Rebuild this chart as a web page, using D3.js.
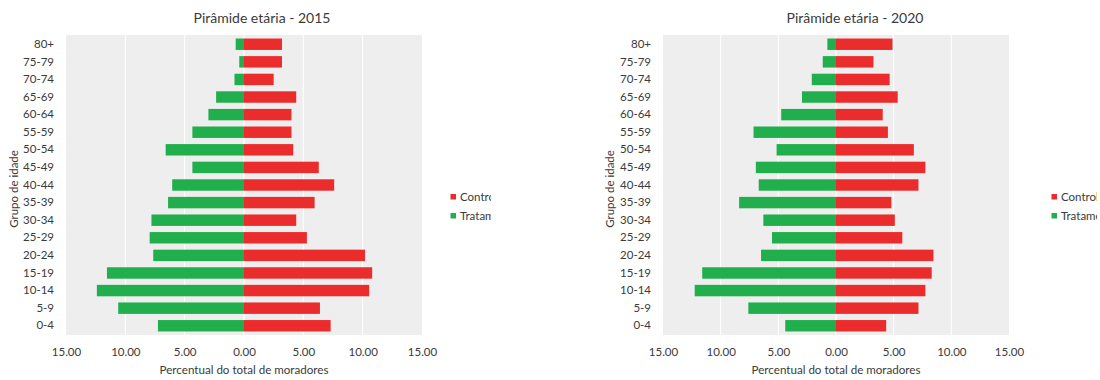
<!DOCTYPE html>
<html>
<head>
<meta charset="utf-8">
<script src="https://cdn.jsdelivr.net/npm/d3@7"></script>
<style>
  body { margin: 0; background: #fff; }
  svg { display: block; font-family: Lato, 'Liberation Sans', sans-serif; }
</style>
</head>
<body>
<svg width="1100" height="380"></svg>
<script>
// Age groups, top to bottom
var ageGroups = ['80+', '75-79', '70-74', '65-69', '60-64', '55-59', '50-54', '45-49',
  '40-44', '35-39', '30-34', '25-29', '20-24', '15-19', '10-14', '5-9', '0-4'];

// Percent of residents, 2015
var controle2015 = [3.2, 3.2, 2.5, 4.4, 4.0, 4.0, 4.15, 6.3, 7.6, 5.95, 4.4, 5.3, 10.2, 10.8, 10.55, 6.4, 7.3];
var tratamento2015 = [0.7, 0.4, 0.8, 2.35, 3.0, 4.35, 6.6, 4.35, 6.05, 6.4, 7.8, 7.95, 7.65, 11.55, 12.4, 10.6, 7.25];

// Percent of residents, 2020
var controle2020 = [4.9, 3.25, 4.65, 5.35, 4.05, 4.5, 6.75, 7.75, 7.15, 4.8, 5.1, 5.75, 8.45, 8.3, 7.75, 7.15, 4.35];
var tratamento2020 = [0.75, 1.15, 2.1, 2.95, 4.75, 7.15, 5.15, 6.95, 6.7, 8.4, 6.3, 5.55, 6.5, 11.6, 12.25, 7.6, 4.4];

var xTicks = [-15, -10, -5, 0, 5, 10, 15];
var seriesNames = ['Controle', 'Tratamento'];
var seriesColors = ['#ea2c2c', '#20af4c'];

var svg = d3.select('svg');
var textColor = '#3a3a3a';

function drawPyramid (cfg) {
  var g = svg.append('g');

  var x = d3.scaleLinear()
    .domain([-15, 15])
    .range([cfg.left, cfg.right]);

  var y = d3.scaleBand()
    .domain(ageGroups)
    .range([35, 335])
    .paddingInner(0.35)
    .paddingOuter(0.2);

  // Plot background
  g.append('rect')
    .attr('x', x(-15))
    .attr('y', 35)
    .attr('width', x(15) - x(-15))
    .attr('height', 300)
    .attr('fill', '#efeeee');

  // Vertical grid lines
  g.selectAll('.grid')
    .data(xTicks.slice(1, -1))
    .enter()
    .append('line')
      .attr('x1', function (d) { return x(d); })
      .attr('x2', function (d) { return x(d); })
      .attr('y1', 35)
      .attr('y2', 335)
      .attr('stroke', '#ffffff')
      .attr('stroke-width', 1);

  // Tratamento bars go left, Controle bars go right
  g.selectAll('.trat')
    .data(cfg.tratamento)
    .enter()
    .append('rect')
      .attr('x', function (d) { return x(-d); })
      .attr('y', function (d, i) { return y(ageGroups[i]); })
      .attr('width', function (d) { return x(0) - x(-d); })
      .attr('height', y.bandwidth())
      .attr('fill', seriesColors[1]);

  g.selectAll('.ctrl')
    .data(cfg.controle)
    .enter()
    .append('rect')
      .attr('x', x(0))
      .attr('y', function (d, i) { return y(ageGroups[i]); })
      .attr('width', function (d) { return x(d) - x(0); })
      .attr('height', y.bandwidth())
      .attr('fill', seriesColors[0]);

  // Y axis (labels only)
  var yAxis = g.append('g')
    .attr('transform', 'translate(' + (cfg.left - 12) + ',0)')
    .call(d3.axisLeft(y).tickSize(0).tickPadding(0));
  yAxis.select('.domain').remove();
  yAxis.selectAll('text')
    .attr('font-size', 11.5)
    .attr('font-family', 'Lato, sans-serif')
    .attr('fill', textColor);

  // X axis (labels only)
  var xAxis = g.append('g')
    .attr('transform', 'translate(0,348)')
    .call(d3.axisBottom(x).tickValues(xTicks).tickSize(0).tickPadding(0)
      .tickFormat(function (d) { return Math.abs(d).toFixed(2); }));
  xAxis.select('.domain').remove();
  xAxis.selectAll('text')
    .attr('font-size', 11.5)
    .attr('font-family', 'Lato, sans-serif')
    .attr('fill', textColor);

  // Title
  g.append('text')
    .attr('x', cfg.titleX)
    .attr('y', 23)
    .attr('text-anchor', 'middle')
    .attr('font-size', 14)
    .attr('fill', textColor)
    .text(cfg.title);

  // Axis titles
  g.append('text')
    .attr('x', (cfg.left + cfg.right) / 2)
    .attr('y', 374)
    .attr('text-anchor', 'middle')
    .attr('font-size', 11.6)
    .attr('fill', textColor)
    .text('Percentual do total de moradores');

  g.append('text')
    .attr('text-anchor', 'middle')
    .attr('transform', 'translate(' + cfg.yTitleX + ',189)rotate(-90)')
    .attr('font-size', 11.5)
    .attr('fill', textColor)
    .text('Grupo de idade');

  // Legend, clipped at the chart frame's right edge as in the source
  var clipId = 'clip' + cfg.title.slice(-4);
  svg.append('clipPath')
    .attr('id', clipId)
    .append('rect')
      .attr('x', cfg.legendX - 5)
      .attr('y', 180)
      .attr('width', cfg.clipRight - cfg.legendX + 5)
      .attr('height', 50);

  var legend = g.append('g')
    .attr('clip-path', 'url(#' + clipId + ')');

  var items = legend.selectAll('.item')
    .data(seriesNames)
    .enter()
    .append('g')
      .attr('transform', function (d, i) {
        return 'translate(' + cfg.legendX + ',' + (196.5 + i * 19) + ')';
      });

  items.append('rect')
    .attr('x', 0)
    .attr('y', -2.5)
    .attr('width', 5.5)
    .attr('height', 5.5)
    .attr('fill', function (d, i) { return seriesColors[i]; });

  items.append('text')
    .attr('x', 9.5)
    .attr('y', 4)
    .attr('font-size', 11.5)
    .attr('fill', textColor)
    .text(function (d) { return d; });
}

drawPyramid({
  title: 'Pirâmide etária - 2015',
  controle: controle2015,
  tratamento: tratamento2015,
  left: 66,
  right: 422,
  titleX: 262,
  yTitleX: 18,
  legendX: 450.5,
  clipRight: 491
});

drawPyramid({
  title: 'Pirâmide etária - 2020',
  controle: controle2020,
  tratamento: tratamento2020,
  left: 663,
  right: 1009,
  titleX: 855,
  yTitleX: 614,
  legendX: 1051.5,
  clipRight: 1097
});
</script>
</body>
</html>
